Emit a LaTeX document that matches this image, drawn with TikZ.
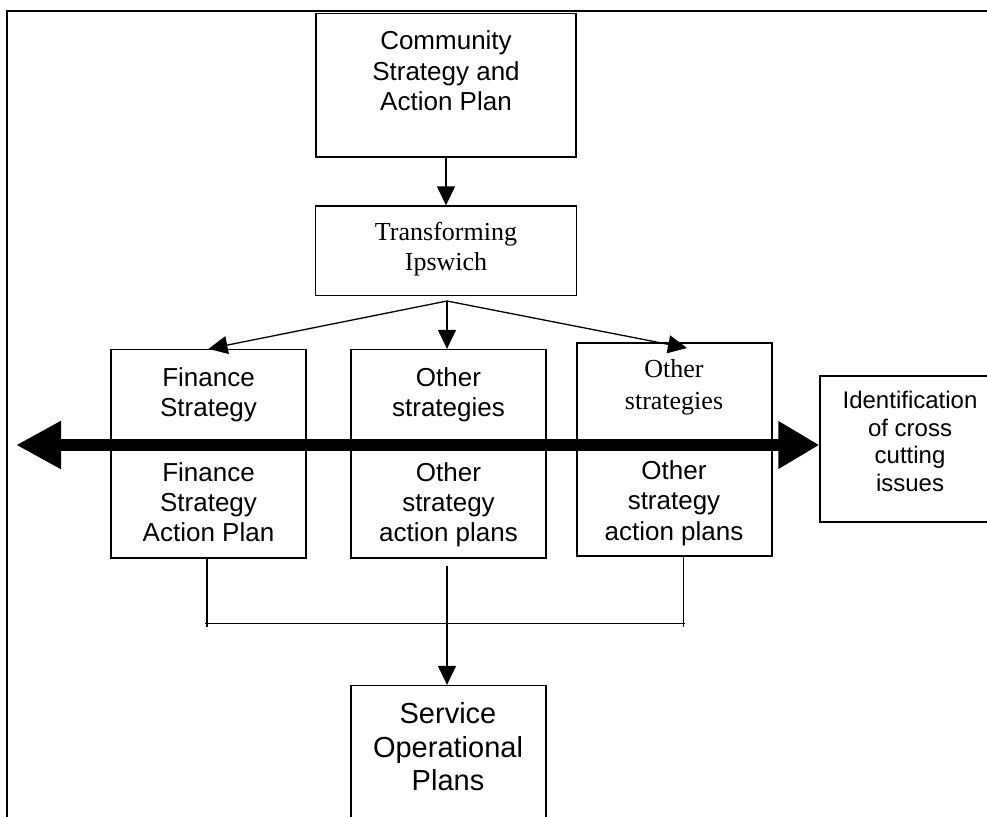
\documentclass[tikz,border=0pt]{standalone}
\usepackage{fontspec}
\newfontfamily\arialf{Liberation Sans}
\newfontfamily\timesf{Liberation Serif}
\usetikzlibrary{arrows.meta,calc}

\tikzset{
  box/.style={draw, line width=1.3pt, rectangle, inner sep=0pt, fill=white},
  % labels are placed by the baseline of their last line
  sanslbl/.style={anchor=base, align=center, inner sep=0pt,
    font=\arialf\fontsize{26}{30}\selectfont},
  seriflbl/.style={anchor=base, align=center, inner sep=0pt,
    font=\timesf\fontsize{26}{30}\selectfont},
  link/.style={line width=1.3pt},
  flow/.style={line width=1.3pt, -{Triangle[length=19pt,width=18pt]}},
  bigarrow/.style={line width=12pt,
    {Triangle[length=45pt,width=45pt]}-{Triangle[length=41pt,width=45pt]}},
}

\begin{document}
\begin{tikzpicture}[x=1pt,y=-1pt]
\useasboundingbox (0,0) rectangle (987,816);
\clip (0,0) rectangle (987,816);
\fill[white] (0,0) rectangle (987,816);

% page frame
\draw[line width=2pt] (7,840) -- (7,11.5) -- (1010,11.5);

% boxes
\node[box, minimum width=260pt, minimum height=143.5pt] (comm) at (446,85.25) {};
\node[box, minimum width=260.5pt, minimum height=89.5pt] (trans) at (446,250.75) {};
\node[box, minimum width=195pt, minimum height=208.5pt] (fin) at (208.5,453.75) {};
\node[box, minimum width=195pt, minimum height=208.5pt] (mid) at (448.5,453.75) {};
\node[box, minimum width=195pt, minimum height=213pt] (rgt) at (674.5,449.5) {};
\node[box, minimum width=180pt, minimum height=146pt] (ident) at (910,449) {};
\node[box, minimum width=195pt, minimum height=164.5pt] (serv) at (448.5,767.75) {};

% labels
\node[sanslbl] (commtxt) at (446,110) {Community\\Strategy and\\Action Plan};
\node[seriflbl] (transtxt) at (446,270.7) {Transforming\\Ipswich};
\node[sanslbl] (fintop) at (208.5,416) {Finance\\Strategy};
\node[sanslbl] (finbot) at (208.5,541.7) {Finance\\Strategy\\Action Plan};
\node[sanslbl] (midtop) at (448.5,416) {Other\\strategies};
\node[sanslbl] (midbot) at (448.5,541.7) {Other\\strategy\\action plans};
\node[seriflbl, font=\timesf\fontsize{26}{31.6}\selectfont] (rgttop) at (674,409.3) {Other\\strategies};
\node[sanslbl, font=\arialf\fontsize{26}{30.5}\selectfont] (rgtbot) at (674,540) {Other\\strategy\\action plans};
\node[sanslbl, font=\arialf\fontsize{24}{27.8}\selectfont] (identtxt) at (910,491.7) {Identification\\of cross\\cutting\\issues};
\node[sanslbl, font=\arialf\fontsize{29}{33.7}\selectfont] (servtxt) at (448,790.7) {Service\\Operational\\Plans};

% top-down flow
\draw[flow] (comm.south) -- (trans.north);
\coordinate (fan) at (447,301);
\coordinate (rtip) at (687,348);
\draw[flow] (fan) -- (fin.north);
\draw[flow] (fan) -- (fan |- mid.north);
\draw[flow] (fan) -- (rtip);

% cross-cutting double arrow
\coordinate (lend) at (16,445);
\draw[bigarrow] (lend) -- (lend -| ident.west);

% gathering of the action plans
\coordinate (jl) at (205,623.5);
\coordinate (jr) at (684.5,623.5);
\draw[link] ($(fin.south)+(-1.5,0)$) -- ++(0,68);
\draw[link] ($(rgt.south)+(9,0)$) -- ++(0,70);
\draw[link] (jl) -- (jr);
\draw[flow] ($(mid.south)+(-1.5,7)$) -- ($(serv.north)+(-1.5,0)$);
\end{tikzpicture}
\end{document}
